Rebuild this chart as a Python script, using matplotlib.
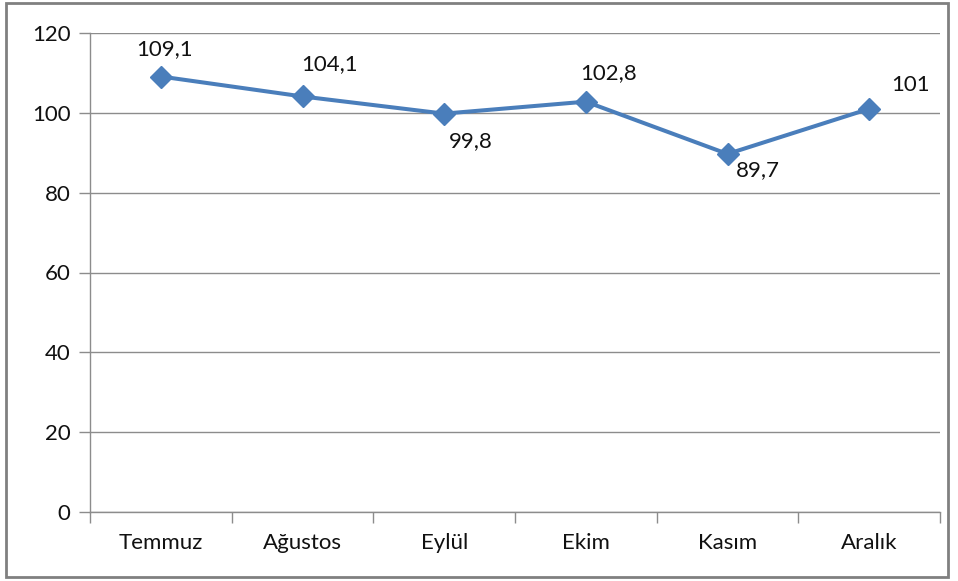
import matplotlib.pyplot as plt
from matplotlib.patches import Rectangle

months = ['Temmuz', 'Ağustos', 'Eylül', 'Ekim', 'Kasım', 'Aralık']
values = [109.1, 104.1, 99.8, 102.8, 89.7, 101]
labels = ['109,1', '104,1', '99,8', '102,8', '89,7', '101']
# label offsets in pixels (dx, dy)
offsets = [(4, 27), (27, 32), (27, -27), (23, 29), (30, -16), (41, 24)]

plt.rcParams['font.family'] = ['Lato', 'DejaVu Sans']

fig = plt.figure(figsize=(9.58, 5.81), dpi=100)
ax = fig.add_axes([90 / 958, 1 - 512 / 581, 850 / 958, 479 / 581])

x = list(range(len(months)))
ax.plot(x, values, color='#4A7EBB', linewidth=2.9, marker='D', markersize=11.5,
        markerfacecolor='#4A7EBB', markeredgecolor='#4A7EBB', zorder=3)

for xi, v, lab, (dx, dy) in zip(x, values, labels, offsets):
    ax.annotate(lab, (xi, v), xytext=(dx, dy), textcoords='offset pixels',
                ha='center', va='center', fontsize=16, color='#111111')

ax.set_xlim(-0.5, 5.5)
ax.set_ylim(0, 120)
ax.set_yticks(range(0, 121, 20))
ax.yaxis.grid(True, color='#8c8c8c', linewidth=1)
ax.set_axisbelow(True)
ax.set_xticks([i - 0.5 for i in range(7)], minor=False)
ax.set_xticklabels([])
ax.set_xticks(x, minor=True)
ax.set_xticklabels(months, minor=True)
ax.tick_params(axis='x', which='major', length=8, color='#8c8c8c', width=1)
ax.tick_params(axis='x', which='minor', length=0, pad=15, labelsize=16, labelcolor='#111111')
ax.tick_params(axis='y', length=8, color='#8c8c8c', width=1, pad=6, labelsize=16, labelcolor='#111111')

for side in ['top', 'right']:
    ax.spines[side].set_visible(False)
for side in ['left', 'bottom']:
    ax.spines[side].set_color('#8c8c8c')
    ax.spines[side].set_linewidth(1)

# outer chart border
fig.patches.append(Rectangle((6 / 958, 4 / 581), 942 / 958, 574 / 581,
                             transform=fig.transFigure, fill=False,
                             edgecolor='#808080', linewidth=2))

fig.savefig('out.png', dpi=100)
